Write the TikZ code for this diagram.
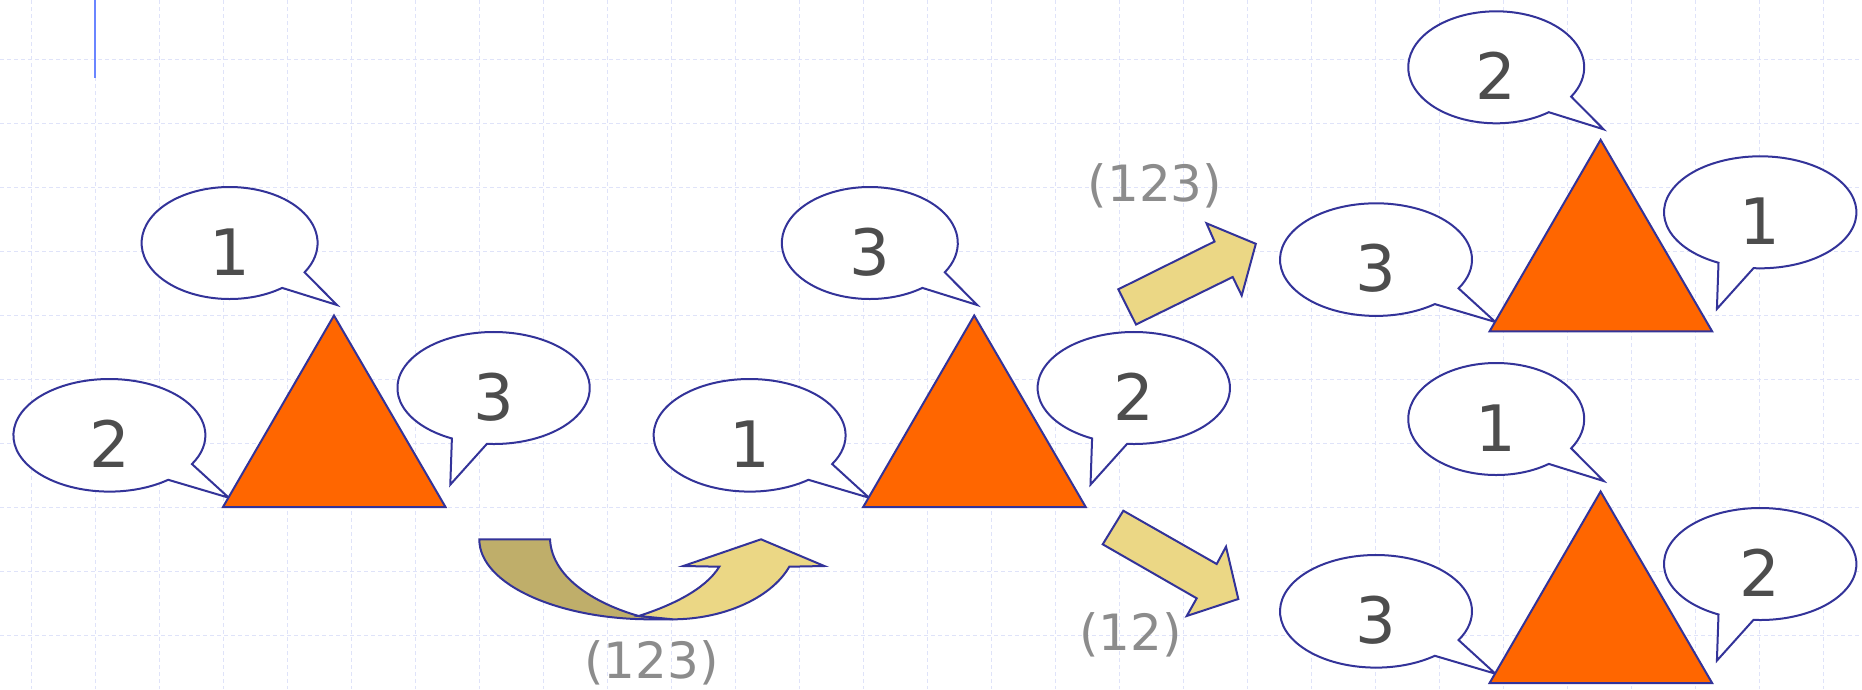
\documentclass[tikz,border=0pt]{standalone}
\usepackage{fontspec}
\setmainfont{DejaVu Sans}
\usetikzlibrary{calc}
\definecolor{gridc}{HTML}{DFE3F9}
\definecolor{edge}{HTML}{333399}
\definecolor{tri}{HTML}{FF6600}
\definecolor{khakiL}{HTML}{EBD785}
\definecolor{khakiD}{HTML}{BFAE6A}
\definecolor{digitc}{HTML}{4D4D4D}
\definecolor{labelc}{HTML}{8C8C8C}
\definecolor{barc}{HTML}{6A85FF}
\tikzset{
  gridline/.style={gridc, line width=1.5pt, dash pattern=on 4pt off 3pt},
  bubble/.style={draw=edge, fill=white, line width=2pt, line join=miter},
  trishape/.style={draw=edge, fill=tri, line width=2pt, line join=miter},
  blockarrow/.style={draw=edge, fill=khakiL, line width=2pt, line join=miter},
  digit/.style={text=digitc, font=\fontsize{64}{70}\selectfont, inner sep=0pt, anchor=base},
  permlabel/.style={text=labelc, font=\fontsize{50}{56}\selectfont, inner sep=0pt, anchor=base},
}
% cx cy rx ry t1 t2 tipdx tipdy
\newcommand\bubbleshape[8]{%
  \draw[bubble] ($(#1,#2)+(#5:#3 and #4)$) -- ({#1+#7},{#2+#8})
    -- ($(#1,#2)+(#6:#3 and #4)$)
    arc[start angle=#6, end angle={#5+360}, x radius=#3, y radius=#4] -- cycle;}
% dx dy top left right prefix
\newcommand\trigroup[6]{%
  \begin{scope}[shift={(#1,#2)}]
    \bubbleshape{229.6}{243}{88}{56}{31.55}{53.3}{107.4}{62}
    \bubbleshape{109.4}{435.3}{96}{56.3}{30.7}{52.2}{119.4}{62.4}
    \bubbleshape{493.6}{388}{96.2}{56}{94}{115.7}{-43.3}{96.6}
    \draw[trishape] (334,315.5) -- (445.5,507) -- (223,507) -- cycle;
    \node[digit] (#6t) at (229.6,275.2) {#3};
    \node[digit] (#6l) at (109.4,467.5) {#4};
    \node[digit] (#6r) at (493.6,420.2) {#5};
  \end{scope}}
\begin{document}
\begin{tikzpicture}[x=1pt,y=-1pt]
\useasboundingbox (0,0) rectangle (1862,689);
\fill[white] (0,0) rectangle (1862,689);
\foreach \k in {0,...,28} \draw[gridline] ({31.7+64*\k},0) -- ({31.7+64*\k},689);
\foreach \k in {0,...,9} \draw[gridline] (0,{59.5+64*\k}) -- (1862,{59.5+64*\k});
\draw[barc, line width=1.8pt] (95,0) -- (95,77.7);

\trigroup{0}{0}{1}{2}{3}{ga}
\trigroup{640.2}{0}{3}{1}{2}{gb}
\trigroup{1266.6}{-175.7}{2}{3}{1}{gc}
\trigroup{1266.6}{176}{1}{3}{2}{gd}

% curved U-turn arrow
\draw[blockarrow, fill=khakiD] (479.3,539.3) -- (550,539.3)
  .. controls (552,580) and (600,605) .. (638.7,616) -- (673,619.3) -- (650,619.3)
  .. controls (560,619.3) and (479.3,585) .. cycle;
\draw[blockarrow] (638.7,616) .. controls (670,606) and (705,590) .. (719.3,566.7)
  -- (683.3,566) -- (761,539.3) -- (824.3,566) -- (789.3,566.7)
  .. controls (770,600) and (720,619.3) .. (673,619.3) -- cycle;

% straight block arrows
\draw[blockarrow] (1118.3,289.3) -- (1214.5,241.5) -- (1206.5,223.3) -- (1255.8,243.8)
  -- (1241.7,295.5) -- (1232.7,277) -- (1136,324.5) -- cycle;
\draw[blockarrow] (1123.3,510.7) -- (1216.7,564) -- (1226,546.7) -- (1238.3,599)
  -- (1186.7,616) -- (1196.7,598.3) -- (1102.7,544.3) -- cycle;

\node[permlabel] (labA) at (651.7,678) {(123)};
\node[permlabel] (labB) at (1155,201.7) {(123)};
\node[permlabel] (labC) at (1130.8,650) {(12)};
\end{tikzpicture}
\end{document}
